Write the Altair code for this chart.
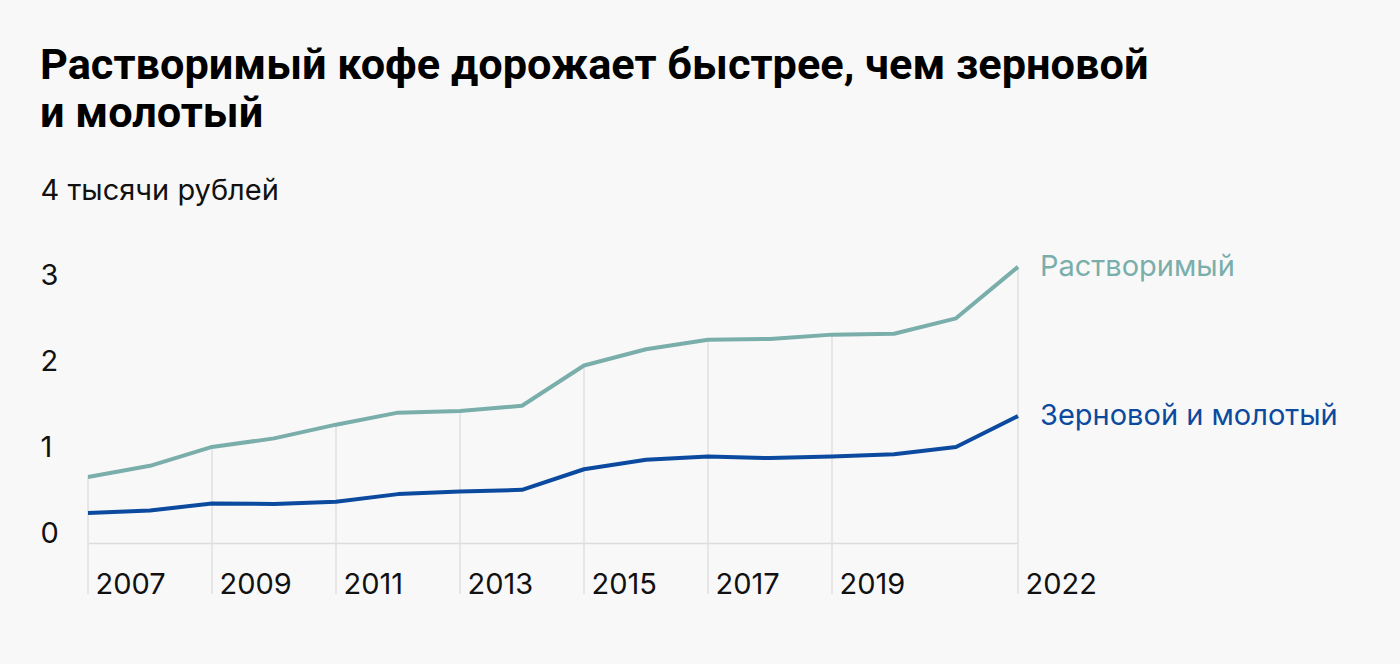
import altair as alt
import pandas as pd

years = list(range(2007, 2023))
instant = [0.77, 0.90, 1.12, 1.22, 1.38, 1.52, 1.54, 1.60, 2.07, 2.26, 2.37, 2.38, 2.43, 2.44, 2.62, 3.22]
ground = [0.35, 0.38, 0.46, 0.455, 0.48, 0.57, 0.60, 0.62, 0.86, 0.97, 1.01, 0.99, 1.01, 1.035, 1.12, 1.48]
series_names = ["Растворимый", "Зерновой и молотый"]
series_colors = ["#7aaeab", "#0b4a9e"]
tick_years = [2007, 2009, 2011, 2013, 2015, 2017, 2019, 2022]
y_ticks = [0, 1, 2, 3, 4]
title_lines = ["Растворимый кофе дорожает быстрее, чем зерновой", "и молотый"]

rows = []
for y, a, b in zip(years, instant, ground):
    rows.append({"year": y, "series": series_names[0], "value": a})
    rows.append({"year": y, "series": series_names[1], "value": b})
df = pd.DataFrame(rows)
grid_df = pd.DataFrame({"year": years, "value": instant})
grid_df = grid_df[grid_df["year"].isin(tick_years)]

W, H = 930, 343
FONT = "Inter"
TFONT = "Roboto"
FS = 29

x_enc = alt.X(
    "year:Q",
    scale=alt.Scale(domain=[2007, 2022], nice=False, zero=False),
    axis=alt.Axis(
        values=tick_years, format="d", title=None, grid=False,
        ticks=False, tickSize=0, domain=True, domainColor="#dcdcdc", domainWidth=1.5,
        labelAlign="left", labelBaseline="alphabetic", labelPadding=50, labelOffset=7,
        labelFontSize=FS, labelFont=FONT, labelColor="#111111", labelFlush=False,
        labelOverlap=False, labelBound=False, labelLimit=0,
    ),
)
y_scale = alt.Scale(domain=[0, 4], nice=False, zero=True)

color = alt.Color("series:N", scale=alt.Scale(domain=series_names, range=series_colors), legend=None)

grid = alt.Chart(grid_df).mark_rule(color="#e0e0e0", strokeWidth=1.5).encode(
    x=x_enc,
    y=alt.Y("value:Q", scale=y_scale),
    y2=alt.value(H + 51),
)

lines = alt.Chart(df).mark_line(strokeWidth=4, strokeJoin="round").encode(
    x=alt.X("year:Q"),
    y=alt.Y(
        "value:Q", scale=y_scale,
        axis=alt.Axis(
            values=y_ticks, format="d", title=None, grid=False, domain=False, ticks=False, tickSize=0,
            labelAlign="left", labelBaseline="alphabetic", labelPadding=48, labelOffset=-1,
            labelFontSize=FS, labelFont=FONT, labelColor="#111111", labelFlush=False,
            labelOverlap=False, labelBound=False, labelLimit=0,
            labelExpr="datum.value == 4 ? '4 тысячи рублей' : datum.label",
        ),
    ),
    color=color,
    detail="series:N",
)

labels = alt.Chart(df).transform_filter(alt.datum.year == 2022).mark_text(
    align="left", baseline="middle", dx=22, fontSize=FS, font=FONT
).encode(
    x="year:Q",
    y=alt.Y("value:Q", scale=y_scale),
    text="series:N",
    color=color,
)

chart = alt.layer(grid, lines, labels).properties(
    width=W, height=H,
    title=alt.TitleParams(
        text=title_lines, anchor="start", frame="group", orient="top",
        font=TFONT, fontSize=43.3, fontWeight="bold", color="#000000",
        lineHeight=48, dx=-48, offset=6, baseline="alphabetic",
    ),
    autosize=alt.AutoSizeParams(type="none"),
    padding={"left": 88, "top": 200, "right": 382, "bottom": 121},
    background="#f8f8f8",
).configure_view(stroke=None)

chart.save("out.html", embed_options={"renderer": "svg", "actions": False})
